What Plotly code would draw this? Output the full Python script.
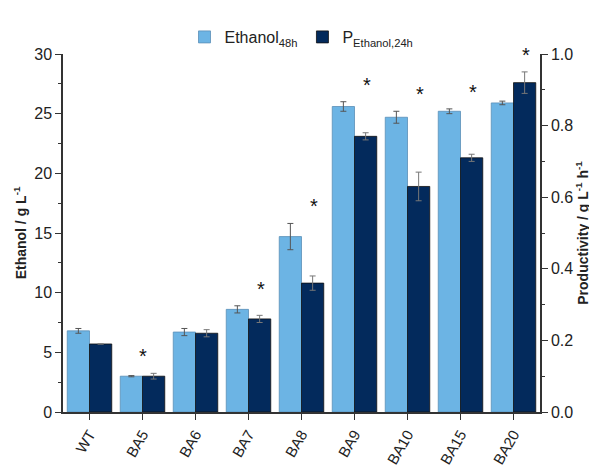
import plotly.graph_objects as go

strains = ["WT", "BA5", "BA6", "BA7", "BA8", "BA9", "BA10", "BA15", "BA20"]
ethanol = [6.8, 3.0, 6.7, 8.6, 14.7, 25.6, 24.7, 25.2, 25.9]
ethanol_err = [0.2, 0.05, 0.3, 0.3, 1.1, 0.4, 0.5, 0.2, 0.15]
prod = [0.19, 0.10, 0.22, 0.26, 0.36, 0.77, 0.63, 0.71, 0.92]
prod_err = [0.0, 0.008, 0.01, 0.01, 0.02, 0.01, 0.04, 0.01, 0.03]
significant = [False, True, False, True, True, True, True, True, True]

light = "#6cb4e4"
dark = "#032a5c"

fig = go.Figure()
fig.add_trace(go.Bar(x=strains, y=ethanol, name="Ethanol<sub>48h</sub>", marker=dict(color=light, line=dict(color="#5a8fb8", width=0.8)),
                     error_y=dict(type="data", array=ethanol_err, color="#555", thickness=1, width=3),
                     offsetgroup="a", yaxis="y"))
fig.add_trace(go.Bar(x=strains, y=prod, name="P<sub>Ethanol,24h</sub>", marker=dict(color=dark, line=dict(color="#111", width=0.8)),
                     error_y=dict(type="data", array=prod_err, color="#777", thickness=1, width=3),
                     offsetgroup="b", yaxis="y2"))

for i, s in enumerate(strains):
    if not significant[i]:
        continue
    top = max(ethanol[i] + ethanol_err[i], (prod[i] + prod_err[i]) * 30)
    shift = 0 if s == "BA5" else 12
    fig.add_annotation(x=s, y=top, yref="y", text="*", showarrow=False, xshift=shift, yshift=4,
                       yanchor="bottom", font=dict(size=20, color="#111"))

axis_common = dict(showline=True, linecolor="#333", linewidth=1.5, ticks="outside", ticklen=6,
                   tickcolor="#333", showgrid=False, zeroline=False, tickfont=dict(size=16, color="#222"))
fig.update_layout(
    width=597, height=471, plot_bgcolor="white", paper_bgcolor="white",
    font=dict(family="Liberation Sans, Arial", color="#222"),
    margin=dict(l=50, r=65, t=29, b=61),
    barmode="group", bargap=0.16, bargroupgap=0,
    showlegend=True,
    legend=dict(orientation="h", x=0.5, xanchor="center", y=1.0, yanchor="bottom", font=dict(size=16), bgcolor="rgba(0,0,0,0)"),
    xaxis=dict(showline=True, linecolor="#333", linewidth=1.5, ticks="outside", ticklen=6, tickcolor="#333",
               tickangle=-60, tickfont=dict(size=15, color="#222")),
    yaxis=dict(range=[0, 30], dtick=5, minor=dict(ticks="outside", ticklen=3, dtick=2.5, tickcolor="#333"),
               title=dict(text="<b>Ethanol / g L<sup>-1</sup></b>", font=dict(size=14), standoff=4), **axis_common),
    yaxis2=dict(range=[0, 1.0], dtick=0.2, overlaying="y", side="right",
                minor=dict(ticks="outside", ticklen=3, dtick=0.1, tickcolor="#333"), tickformat=".1f",
                title=dict(text="<b>Productivity / g L<sup>-1</sup> h<sup>-1</sup></b>", font=dict(size=14), standoff=4), **axis_common),
)
fig.write_html("out.html")
